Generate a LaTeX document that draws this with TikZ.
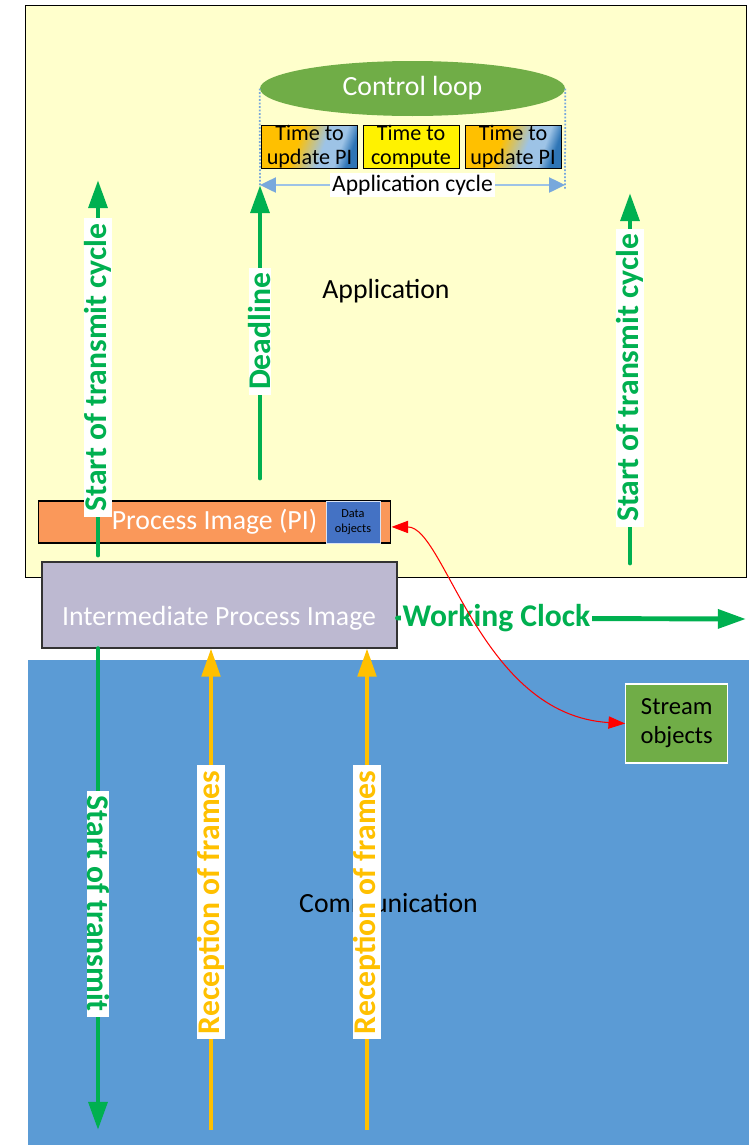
\documentclass[tikz,border=0pt]{standalone}
\usepackage{fontspec}
\setmainfont{Carlito}
\usetikzlibrary{arrows.meta,shapes.geometric}

\definecolor{appyellow}{RGB}{255,255,204}
\definecolor{commblue}{RGB}{91,155,213}
\definecolor{ipigrey}{RGB}{189,185,209}
\definecolor{piorange}{RGB}{250,152,90}
\definecolor{objblue}{RGB}{68,114,196}
\definecolor{loopgreen}{RGB}{112,173,71}
\definecolor{clockgreen}{RGB}{0,176,80}
\definecolor{frameamber}{RGB}{255,192,0}
\definecolor{cycleblue}{RGB}{120,168,220}
\definecolor{updlight}{RGB}{157,195,230}
\definecolor{upddark}{RGB}{46,117,182}

\pgfdeclarehorizontalshading{updshade}{100bp}{color(0bp)=(frameamber); color(42bp)=(frameamber);
  color(58bp)=(updlight); color(68bp)=(updlight); color(75bp)=(upddark); color(100bp)=(upddark)}

\newcommand\bigsize{\fontsize{15.8pt}{19pt}\selectfont}
\newcommand\lblsize{\fontsize{18pt}{21pt}\selectfont}
\newcommand\timesize{\fontsize{12.6pt}{13.4pt}\selectfont}
\newcommand\streamsize{\fontsize{14pt}{16.5pt}\selectfont}
\newcommand\tinysize{\fontsize{7pt}{8.3pt}\selectfont}

\begin{document}
\begin{tikzpicture}[x=0.02cm,y=-0.02cm,
  box/.style={rectangle,inner sep=0pt,align=center},
  timebox/.style={box,draw=black,line width=0.5pt,minimum width=1.92cm,minimum height=0.86cm,font=\timesize},
  updbox/.style={timebox,shade,shading=updshade,shading angle=-20},
  clockarrow/.style={draw=clockgreen,line width=2.8pt,line cap=round,-{Triangle[length=16pt,width=10.5pt]}},
  framearrow/.style={draw=frameamber,line width=2.3pt,-{Triangle[length=16pt,width=10.5pt]}},
  clocklbl/.style={fill=white,text=clockgreen,font=\lblsize\bfseries,inner xsep=3pt,inner ysep=0pt},
  framelbl/.style={fill=white,text=frameamber,font=\lblsize\bfseries,inner xsep=3pt,inner ysep=0pt}]
  \useasboundingbox (0,0) rectangle (749,1147);

  % the two layers
  \node[box,draw=black,line width=0.6pt,fill=appyellow,minimum width=14.44cm,minimum height=11.46cm,
    font=\bigsize] (app) at (386,291.5) {Application};
  \node[box,fill=commblue,minimum width=14.42cm,minimum height=9.7cm,font=\bigsize] (comm) at (388.5,902.5) {Communication};

  % control loop and its cycle
  \node[ellipse,fill=loopgreen,inner sep=0pt,minimum width=6.1cm,minimum height=1.1cm,
    text=white,font=\bigsize] (loop) at (412.5,88.5) {Control loop};
  \node[updbox] (upd1) at (309.5,146.5) {Time to\\update PI};
  \node[timebox,fill=yellow] (comp) at (411,146.5) {Time to\\compute};
  \node[updbox] (upd2) at (513,146.5) {Time to\\update PI};
  \coordinate (cycL) at (260,185);
  \coordinate (cycR) at (565,185);
  \draw[cycleblue,line width=1pt,densely dotted] (loop.west) -- (cycL);
  \draw[cycleblue,line width=1pt,densely dotted] (loop.east) -- ([yshift=-2pt]cycR);
  \draw[updlight,line width=1.2pt,{Triangle[length=9pt,width=8.5pt,color=cycleblue]}-{Triangle[length=9pt,width=8.5pt,color=cycleblue]}]
    (cycL) -- node[fill=white,text=black,inner sep=1pt,font=\fontsize{13.4pt}{15pt}\selectfont] (cyclbl) {Application cycle} (cycR);

  % process images
  \node[box,draw=black,line width=0.6pt,fill=piorange,minimum width=7.06cm,minimum height=0.84cm,
    text=white,font=\bigsize] (pi) at (214.5,522) {Process Image (PI)};
  \node[box,draw=white!80!objblue,line width=0.5pt,fill=objblue,minimum width=1.08cm,minimum height=0.84cm,
    font=\tinysize] (dobj) at (353,522) {Data\\objects};
  \node[box,draw=black!80,line width=0.7pt,fill=ipigrey,minimum width=7.1cm,minimum height=1.72cm] (ipi) at (219.5,605) {};
  \node[text=white,font=\bigsize] (ipitxt) at (219,618) {Intermediate Process Image};

  % cycle markers
  \coordinate (tx1) at (98,555);
  \coordinate (tx1top) at (98,180);
  \draw[clockarrow] (tx1) -- node[clocklbl,rotate=90] (tx1lbl) {Start of transmit cycle} (tx1top);
  \coordinate (dl) at (260,478);
  \draw[clockarrow] (dl) -- node[clocklbl,rotate=90] (dllbl) {Deadline} (cycL);
  \coordinate (tx2) at (630,563);
  \coordinate (tx2top) at (630,193);
  \draw[clockarrow] (tx2) -- node[clocklbl,rotate=90] (tx2lbl) {Start of transmit cycle} (tx2top);
  \coordinate (tx3) at (98,1130);
  \draw[clockarrow] (ipi.south -| tx3) -- node[clocklbl,rotate=-90,pos=0.53] (tx3lbl) {Start of transmit} (tx3);

  \foreach \x/\n in {211/1,367/2} {
    \coordinate (rx\n) at (\x,1130);
    \draw[framearrow] (rx\n) -- node[framelbl,rotate=90,pos=0.473] (rxlbl\n) {Reception of frames} (rx\n |- ipi.south);
  }

  \coordinate (clkend) at (746,619);
  \draw[clockarrow] (ipi.east |- ipitxt) -- node[clocklbl,pos=0.284,inner xsep=1pt] (clklbl) {Working Clock} (clkend);

  \node[box,draw=white,line width=0.6pt,fill=loopgreen,minimum width=2.04cm,minimum height=1.58cm,
    font=\streamsize] (stream) at (676.7,723.5) {Stream\\objects};
  \draw[red,line width=0.6pt,{Triangle[length=9.5pt,width=7pt]}-{Triangle[length=9.5pt,width=7pt]}]
    ([yshift=-2.8pt]pi.east) .. controls (445,527) and (480,715) .. (stream.west);
\end{tikzpicture}
\end{document}
